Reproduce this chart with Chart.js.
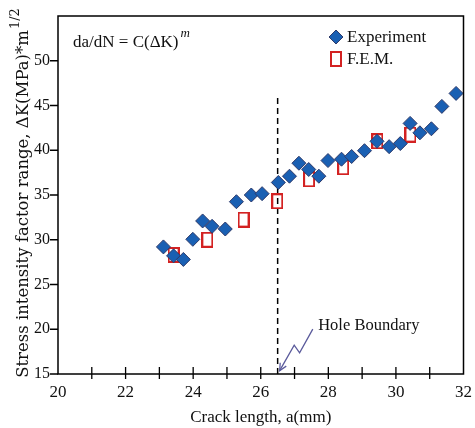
<!DOCTYPE html>
<html>
<head>
<meta charset="utf-8">
<script src="https://cdn.jsdelivr.net/npm/chart.js@4.4.0/dist/chart.umd.min.js"></script>
<style>
  html, body { margin: 0; padding: 0; background: #fff; }
  #wrap { width: 475px; height: 428px; }
</style>
</head>
<body>
<div id="wrap"><canvas id="crackChart" width="475" height="428"></canvas></div>
<script>
// Crack length (mm) and stress intensity factor range
const expX = [23.12, 23.42, 23.71, 23.99, 24.28, 24.56, 24.95, 25.28, 25.72, 26.04,
  26.52, 26.85, 27.13, 27.42, 27.72, 27.99, 28.39, 28.69, 29.07, 29.44,
  29.80, 30.13, 30.42, 30.71, 31.05, 31.36, 31.78];
const expK = [29.2, 28.2, 27.8, 30.05, 32.1, 31.5, 31.2, 34.25, 35.0, 35.15,
  36.4, 37.1, 38.55, 37.85, 37.1, 38.85, 39.0, 39.3, 39.95, 41.0,
  40.4, 40.75, 43.0, 41.95, 42.4, 44.9, 46.35];

const femX = [23.42, 24.42, 25.49, 26.49, 27.43, 28.44, 29.45, 30.43];
const femK = [28.3, 30.0, 32.25, 34.3, 36.75, 38.1, 41.0, 41.75];

// hole boundary marker
const holeX = [26.5, 26.5];
const holeK = [15, 46.1];
const arrowX = [27.54, 27.15, 26.99, 26.56];
const arrowK = [20.02, 17.37, 18.23, 15.37];

// axis ticks
const xTickValues = [20, 21, 22, 23, 24, 25, 26, 27, 28, 29, 30, 31, 32];
const xTickLabels = [20, 22, 24, 26, 28, 30, 32];
const yTickValues = [15, 20, 25, 30, 35, 40, 45, 50];

const serif = "'Liberation Serif', 'DejaVu Serif', serif";
const wideSerif = "'DejaVu Serif', 'Liberation Serif', serif";
const blue = "#1a60b3";
const blueEdge = "#2e3a6a";
const red = "#d32222";

// open red rectangle used for the F.E.M. points
const femMark = document.createElement("canvas");
femMark.width = 12;
femMark.height = 16;
const mctx = femMark.getContext("2d");
mctx.strokeStyle = red;
mctx.lineWidth = 2;
mctx.strokeRect(1, 1, 10, 14);

function drawDiamond(ctx, x, y, r) {
  ctx.beginPath();
  ctx.moveTo(x, y - r);
  ctx.lineTo(x + r, y);
  ctx.lineTo(x, y + r);
  ctx.lineTo(x - r, y);
  ctx.closePath();
  ctx.fillStyle = blue;
  ctx.fill();
  ctx.strokeStyle = blueEdge;
  ctx.lineWidth = 1;
  ctx.stroke();
}

const extras = {
  id: "extras",
  beforeDraw(chart) {
    const ctx = chart.ctx;
    ctx.save();
    ctx.fillStyle = "#fff";
    ctx.fillRect(0, 0, chart.width, chart.height);
    ctx.restore();
  },
  afterDraw(chart) {
    const ctx = chart.ctx;
    const a = chart.chartArea;
    const xs = chart.scales.x;
    const ys = chart.scales.y;
    ctx.save();

    // frame
    ctx.strokeStyle = "#000";
    ctx.lineWidth = 1.5;
    ctx.strokeRect(a.left, a.top, a.right - a.left, a.bottom - a.top);

    // x ticks cross the axis, y ticks point outward
    ctx.lineWidth = 1.3;
    ctx.beginPath();
    xs.ticks.forEach((t) => {
      if (t.value === 20 || t.value === 32) return;
      const px = xs.getPixelForValue(t.value);
      ctx.moveTo(px, a.bottom - 7);
      ctx.lineTo(px, a.bottom + 5);
    });
    ys.ticks.forEach((t) => {
      if (yTickValues.indexOf(t.value) < 0) return;
      const py = ys.getPixelForValue(t.value);
      ctx.moveTo(a.left - 8, py);
      ctx.lineTo(a.left, py);
    });
    ctx.stroke();

    // legend
    drawDiamond(ctx, 336, 37, 7);
    ctx.drawImage(femMark, 330, 51);
    ctx.fillStyle = "#111";
    ctx.font = "17px " + serif;
    ctx.textAlign = "left";
    ctx.textBaseline = "middle";
    ctx.fillText("Experiment", 347, 38);
    ctx.fillText("F.E.M.", 347, 60);

    // formula
    ctx.font = "17px " + serif;
    ctx.fillText("da/dN = C(ΔK)", 73, 43);
    const fw = ctx.measureText("da/dN = C(ΔK)").width;
    ctx.font = "italic 13px " + serif;
    ctx.fillText("m", 73 + fw + 2, 34);

    // hole boundary arrow
    ctx.strokeStyle = "#5b5b9c";
    ctx.lineWidth = 1.3;
    ctx.beginPath();
    arrowX.forEach((v, i) => {
      const px = xs.getPixelForValue(v);
      const py = ys.getPixelForValue(arrowK[i]);
      if (i === 0) ctx.moveTo(px, py);
      else ctx.lineTo(px, py);
    });
    ctx.stroke();
    const n = arrowX.length - 1;
    const ex = xs.getPixelForValue(arrowX[n]);
    const ey = ys.getPixelForValue(arrowK[n]);
    const sx = xs.getPixelForValue(arrowX[n - 1]);
    const sy = ys.getPixelForValue(arrowK[n - 1]);
    const ang = Math.atan2(ey - sy, ex - sx);
    ctx.beginPath();
    ctx.moveTo(ex + 8 * Math.cos(ang + Math.PI - 0.45), ey + 8 * Math.sin(ang + Math.PI - 0.45));
    ctx.lineTo(ex, ey);
    ctx.lineTo(ex + 8 * Math.cos(ang + Math.PI + 0.45), ey + 8 * Math.sin(ang + Math.PI + 0.45));
    ctx.stroke();

    ctx.fillStyle = "#111";
    ctx.font = "16.5px " + serif;
    ctx.textBaseline = "middle";
    ctx.fillText("Hole Boundary", xs.getPixelForValue(27.7), ys.getPixelForValue(20.35));

    // y axis title with superscript, sized to span the same length as the original
    const main = "Stress intensity factor range, ΔK(MPa)*m";
    const sup = "1/2";
    ctx.font = "16px " + wideSerif;
    let size = 16 * 348 / ctx.measureText(main).width;
    ctx.font = size + "px " + wideSerif;
    const mw = ctx.measureText(main).width;
    ctx.font = "13px " + wideSerif;
    const sw = ctx.measureText(sup).width;
    ctx.translate(24, 193);
    ctx.rotate(-Math.PI / 2);
    const start = -(mw + sw + 1) / 2;
    ctx.textAlign = "left";
    ctx.font = size + "px " + wideSerif;
    ctx.fillText(main, start, 0);
    ctx.font = "13px " + wideSerif;
    ctx.fillText(sup, start + mw + 1, -8);

    ctx.restore();
  },
};

const ctx = document.getElementById("crackChart").getContext("2d");
const crackChart = new Chart(ctx, {
  type: "scatter",
  data: {
    datasets: [
      {
        label: "Experiment",
        data: expX.map((x, i) => ({ x: x, y: expK[i] })),
        pointStyle: "rectRot",
        pointRadius: 7,
        backgroundColor: blue,
        borderColor: blueEdge,
        borderWidth: 1,
      },
      {
        label: "F.E.M.",
        data: femX.map((x, i) => ({ x: x, y: femK[i] })),
        pointStyle: femMark,
        pointRadius: 7,
      },
      {
        label: "Hole boundary",
        type: "line",
        data: holeX.map((x, i) => ({ x: x, y: holeK[i] })),
        borderColor: "#000",
        borderWidth: 1.5,
        borderDash: [6, 4],
        pointRadius: 0,
        fill: false,
      },
    ],
  },
  options: {
    responsive: false,
    animation: false,
    layout: {
      padding: { top: 16, right: 8, left: 0, bottom: 0 },
    },
    plugins: {
      legend: { display: false },
      tooltip: { enabled: false },
    },
    scales: {
      x: {
        type: "linear",
        min: 20,
        max: 32,
        afterFit: (s) => { s.height = 54; },
        afterBuildTicks: (s) => { s.ticks = xTickValues.map((v) => ({ value: v })); },
        grid: { display: false, drawTicks: true, tickLength: 5 },
        border: { display: false },
        ticks: {
          autoSkip: false,
          maxRotation: 0,
          padding: 3,
          color: "#111",
          font: { family: serif, size: 17 },
          callback: (v) => (xTickLabels.indexOf(v) >= 0 ? v : ""),
        },
        title: {
          display: true,
          text: "Crack length, a(mm)",
          color: "#111",
          font: { family: serif, size: 17 },
          padding: { top: 0, bottom: 0 },
        },
      },
      y: {
        type: "linear",
        min: 15,
        max: 55,
        afterFit: (s) => { s.width = 58; },
        afterBuildTicks: (s) => { s.ticks = yTickValues.map((v) => ({ value: v })); },
        grid: { display: false, drawTicks: true, tickLength: 8 },
        border: { display: false },
        ticks: {
          autoSkip: false,
          padding: 0,
          color: "#111",
          font: { family: serif, size: 16 },
        },
      },
    },
  },
  plugins: [extras],
});
</script>
</body>
</html>
